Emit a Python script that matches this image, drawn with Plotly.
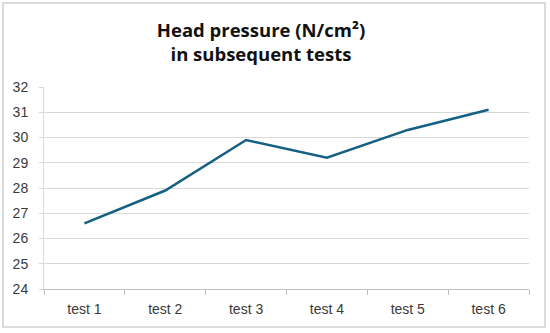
import plotly.graph_objects as go

categories = ["test 1", "test 2", "test 3", "test 4", "test 5", "test 6"]
pressure = [26.6, 27.9, 29.9, 29.2, 30.3, 31.1]
y_ticks = [24, 25, 26, 27, 28, 29, 30, 31, 32]

W, H = 550, 333
ml, mr, mt, mb = 44, 21, 87, 44

fig = go.Figure()
fig.add_trace(go.Scatter(
    x=categories, y=pressure, mode="lines",
    line=dict(color="#156082", width=2.5),
    hoverinfo="skip", showlegend=False,
))

pw = W - ml - mr
ph = H - mt - mb
# outer chart border (in paper coordinates relative to plot area)
fig.add_shape(
    type="rect", xref="paper", yref="paper",
    x0=(3 - ml) / pw, x1=(545 - ml) / pw,
    y0=(H - mb - 327) / ph, y1=(H - mb - 3) / ph,
    line=dict(color="#D0D0D0", width=1.5), fillcolor="rgba(0,0,0,0)",
    layer="below",
)

fig.update_layout(
    width=W, height=H,
    margin=dict(l=ml, r=mr, t=mt, b=mb),
    paper_bgcolor="white", plot_bgcolor="white",
    font=dict(family="Liberation Sans, Arial, sans-serif", size=14, color="#3a3a3a"),
    title=dict(
        text="Head pressure (N/cm²)<br>in subsequent tests",
        font=dict(family="Open Sans, sans-serif", size=18.5, color="#111111", weight="bold"),
        x=261 / W, xanchor="center", xref="container",
        y=1 - 36.5 / H, yanchor="top", yref="container",
    ),
    xaxis=dict(
        type="category", categoryorder="array", categoryarray=categories,
        range=[-0.5, 5.5],
        showgrid=False, showline=True, linecolor="#BFBFBF", linewidth=1,
        ticks="outside", tickson="boundaries", ticklen=5, tickcolor="#BFBFBF",
        tickfont=dict(size=14, color="#3a3a3a"),
        ticklabelstandoff=7,
        zeroline=False,
    ),
    yaxis=dict(
        range=[24, 32], tickvals=y_ticks, ticktext=[str(v) for v in y_ticks],
        showgrid=True, gridcolor="#D9D9D9", gridwidth=1,
        showline=True, linecolor="#D9D9D9", linewidth=1,
        ticks="outside", ticklen=4, tickcolor="#D9D9D9",
        tickfont=dict(size=14, color="#3a3a3a"),
        ticklabelstandoff=8,
        zeroline=False,
    ),
)

fig.write_html(
    "out.html",
    config={"displayModeBar": False},
    post_script="document.body.style.margin='0';document.body.style.padding='0';",
)
